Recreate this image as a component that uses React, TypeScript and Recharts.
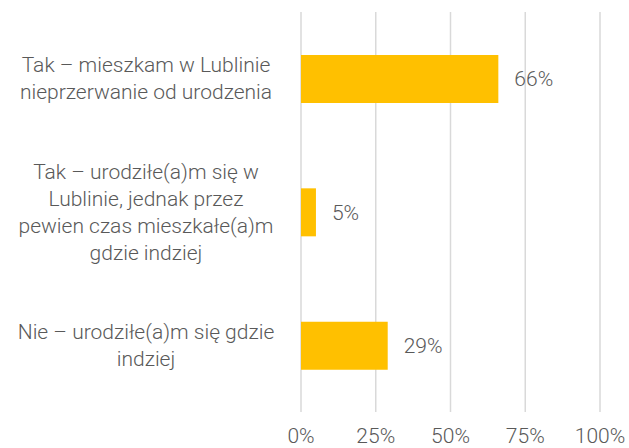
import { BarChart, Bar, XAxis, YAxis, CartesianGrid, LabelList } from 'recharts';

const categories = [
  'Tak – mieszkam w Lublinie\nnieprzerwanie od urodzenia',
  'Tak – urodziłe(a)m się w\nLublinie, jednak przez\npewien czas mieszkałe(a)m\ngdzie indziej',
  'Nie – urodziłe(a)m się gdzie\nindziej',
];
const shares = [66, 5, 29];
const xTicks = [0, 25, 50, 75, 100];

const data = categories.map((name, i) => ({ name, value: shares[i] }));

const FONT = 'Roboto, "Noto Sans", sans-serif';
const TEXT = '#595959';

const CategoryTick = (props: any) => {
  const { y, payload } = props;
  const lines: string[] = String(payload.value).split('\n');
  const lh = 27;
  const start = y - ((lines.length - 1) * lh) / 2;
  return (
    <text x={146} y={start} textAnchor="middle" fill={TEXT} fontSize={21} fontWeight={300} fontFamily={FONT} dominantBaseline="central">
      {lines.map((l, i) => (
        <tspan key={i} x={146} y={start + i * lh}>{l}</tspan>
      ))}
    </text>
  );
};

const PercentTick = (props: any) => {
  const { x, payload } = props;
  return (
    <text x={x} y={443} textAnchor="middle" fill={TEXT} fontSize={21} fontWeight={300} fontFamily={FONT}>
      {payload.value}%
    </text>
  );
};

const App = () => {
  return (
    <div style={{ position: 'absolute', left: 0, top: 0, background: '#fff' }}>
      <BarChart
        width={629}
        height={448}
        data={data}
        layout="vertical"
        margin={{ top: 12, right: 29, bottom: 0, left: 0 }}
        barCategoryGap={42}
      >
        <CartesianGrid horizontal={false} stroke="#d9d9d9" strokeWidth={1.5} />
        <XAxis
          type="number"
          domain={[0, 100]}
          ticks={xTicks}
          axisLine={false}
          tickLine={false}
          height={36}
          tick={<PercentTick />}
          interval={0}
        />
        <YAxis
          type="category"
          dataKey="name"
          width={301}
          axisLine={false}
          tickLine={false}
          tick={<CategoryTick />}
          interval={0}
        />
        <Bar dataKey="value" fill="#FFC000" barSize={48} isAnimationActive={false}>
          <LabelList
            dataKey="value"
            position="right"
            offset={16}
            formatter={(v: any) => `${v}%`}
            fill={TEXT}
            fontSize={21}
            fontWeight={300}
            fontFamily={FONT}
          />
        </Bar>
      </BarChart>
    </div>
  );
};

export default App;
